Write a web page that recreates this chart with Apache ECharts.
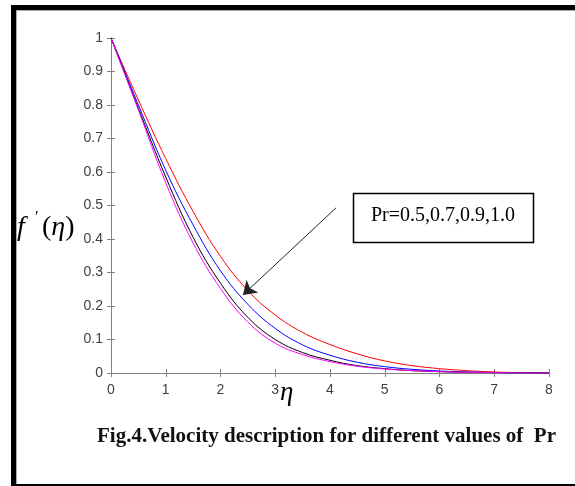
<!DOCTYPE html>
<html>
<head>
<meta charset="utf-8">
<script src="https://cdn.jsdelivr.net/npm/echarts@6/dist/echarts.min.js"></script>
<style>
  html, body { margin: 0; padding: 0; background: #fff; }
  #chart { width: 575px; height: 486px; }
</style>
</head>
<body>
<div id="chart"></div>
<script>
// eta samples
var etaValues = [0, 0.5, 1, 1.5, 2, 2.5, 3, 3.5, 4, 4.5, 5, 5.5, 6, 6.5, 7, 7.5, 8];

// f'(eta) for Pr = 0.5, 0.7, 0.9, 1.0
var pr05 = [1, 0.815, 0.64, 0.482, 0.348, 0.246, 0.173, 0.121, 0.085, 0.057, 0.036, 0.022, 0.013, 0.007, 0.003, 0.001, 0];
var pr07 = [1, 0.80, 0.605, 0.442, 0.305, 0.205, 0.133, 0.084, 0.053, 0.032, 0.019, 0.011, 0.006, 0.003, 0.0015, 0.0005, 0];
var pr09 = [1, 0.79, 0.585, 0.405, 0.268, 0.166, 0.100, 0.061, 0.038, 0.022, 0.013, 0.007, 0.004, 0.002, 0.001, 0.0003, 0];
var pr10 = [1, 0.785, 0.568, 0.388, 0.252, 0.152, 0.089, 0.055, 0.034, 0.020, 0.012, 0.007, 0.004, 0.002, 0.001, 0.0003, 0];

var seriesColors = ['#ff0000', '#0000ff', '#000000', '#ff00ff'];
var seriesData = [pr05, pr07, pr09, pr10];

// arrow of the annotation, in data units
var arrowFrom = [4.11, 0.493];
var arrowTo = [2.41, 0.233];

function pairs(ys) {
    var out = [];
    for (var i = 0; i < etaValues.length; i++) {
        out.push([etaValues[i], ys[i]]);
    }
    return out;
}

var chart = echarts.init(document.getElementById('chart'), null, {renderer: 'canvas'});

var axisGray = '#808080';
var tickFont = {color: '#404040', fontSize: 14, fontFamily: 'Liberation Sans'};

var series = [];
for (var i = 0; i < seriesData.length; i++) {
    series.push({
        type: 'line',
        data: pairs(seriesData[i]),
        smooth: 0.4,
        symbol: 'none',
        lineStyle: {color: seriesColors[i], width: 1},
        z: 2 + i
    });
}
series[3].markLine = {
    silent: true,
    symbol: ['none', 'arrow'],
    symbolSize: 13,
    label: {show: false},
    lineStyle: {color: '#222', width: 1, type: 'solid'},
    data: [[{coord: arrowFrom}, {coord: arrowTo}]]
};

chart.setOption({
    animation: false,
    backgroundColor: '#fff',
    grid: {left: 111, top: 38, right: 26, bottom: 113},
    xAxis: [{
        type: 'value', min: 0, max: 8, interval: 1,
        axisLine: {show: true, lineStyle: {color: axisGray}},
        axisTick: {inside: true, length: 4, lineStyle: {color: axisGray}},
        axisLabel: Object.assign({margin: 10}, tickFont),
        splitLine: {show: false}
    }, {
        type: 'value', position: 'top', min: 0, max: 8, interval: 1,
        axisLine: {show: true, lineStyle: {color: axisGray}},
        axisTick: {inside: true, length: 4, lineStyle: {color: axisGray}},
        axisLabel: {show: false},
        splitLine: {show: false}
    }],
    yAxis: [{
        type: 'value', min: 0, max: 1, interval: 0.1,
        axisLine: {show: true, lineStyle: {color: axisGray}},
        axisTick: {inside: true, length: 4, lineStyle: {color: axisGray}},
        axisLabel: Object.assign({margin: 8}, tickFont),
        splitLine: {show: false}
    }, {
        type: 'value', position: 'right', min: 0, max: 1, interval: 0.1,
        axisLine: {show: true, lineStyle: {color: axisGray}},
        axisTick: {inside: true, length: 4, lineStyle: {color: axisGray}},
        axisLabel: {show: false},
        splitLine: {show: false}
    }],
    series: series,
    graphic: [
        // page frame
        {type: 'rect', shape: {x: 11, y: 5, width: 564, height: 5}, style: {fill: '#000'}},
        {type: 'rect', shape: {x: 11, y: 5, width: 5, height: 481}, style: {fill: '#000'}},
        {type: 'rect', shape: {x: 11, y: 484, width: 564, height: 2}, style: {fill: '#000'}},
        {type: 'rect', shape: {x: 16, y: 10, width: 559, height: 1}, style: {fill: '#aaa'}},
        {type: 'rect', shape: {x: 16, y: 10, width: 1, height: 474}, style: {fill: '#aaa'}},
        // y axis name f'(eta)
        {type: 'text', x: 17, y: 228, style: {
            text: 'f', fontFamily: 'Liberation Serif', fontStyle: 'italic', fontSize: 28,
            fill: '#000', verticalAlign: 'middle'
        }},
        {type: 'text', x: 35, y: 218, style: {
            text: '\u2032', fontFamily: 'Liberation Serif', fontSize: 16,
            fill: '#000', verticalAlign: 'middle'
        }},
        {type: 'text', x: 42, y: 228, style: {
            text: '{a|(}{b|\u03b7}{a|)}',
            rich: {
                a: {fontFamily: 'Liberation Serif', fontSize: 28, fill: '#000'},
                b: {fontFamily: 'Liberation Serif', fontStyle: 'italic', fontSize: 28, fill: '#000'}
            },
            verticalAlign: 'middle'
        }},
        // x axis name eta
        {type: 'text', x: 280, y: 393, style: {
            text: '\u03b7', fontFamily: 'Liberation Serif', fontStyle: 'italic', fontSize: 27,
            fill: '#000', verticalAlign: 'middle'
        }},
        // annotation box
        {type: 'rect', shape: {x: 353.5, y: 193.5, width: 180, height: 49},
            style: {fill: '#fff', stroke: '#000', lineWidth: 1.5}, z: 10},
        {type: 'text', x: 443, y: 216, z: 11, style: {
            text: 'Pr=0.5,0.7,0.9,1.0', fontFamily: 'Liberation Serif', fontSize: 20,
            fill: '#000', align: 'center', verticalAlign: 'middle'
        }},
        // caption
        {type: 'text', x: 97, y: 437, style: {
            text: 'Fig.4.Velocity description for different values of  Pr',
            fontFamily: 'Liberation Serif', fontWeight: 'bold', fontSize: 21,
            fill: '#111', verticalAlign: 'middle'
        }}
    ]
});
</script>
</body>
</html>
